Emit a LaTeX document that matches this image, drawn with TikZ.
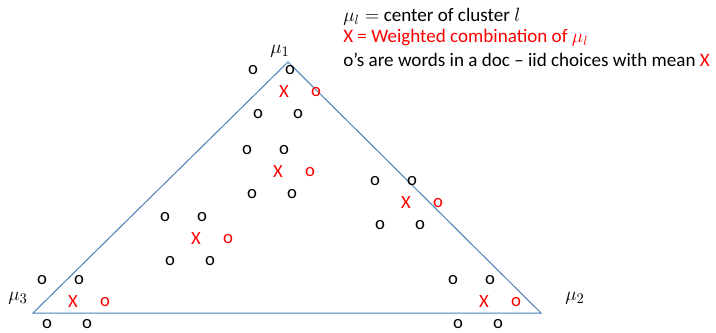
\documentclass[tikz,border=0pt]{standalone}
\usepackage{amsmath}
\usepackage{fontspec}
\setmainfont{Carlito}
\usepackage{xcolor}
\usetikzlibrary{positioning}
\definecolor{edgeblue}{RGB}{74,126,187}
\definecolor{markred}{RGB}{255,0,0}
\tikzset{
  wordmark/.style={inner sep=0pt,font=\fontsize{14}{16}\selectfont},
  meanmark/.style={wordmark,text=markred},
  vertexlabel/.style={inner sep=0pt,font=\fontsize{15}{17}\selectfont},
  legendline/.style={inner sep=0pt,anchor=west,font=\fontsize{14.3}{17}\selectfont}
}

\begin{document}
\begin{tikzpicture}[x=0.75pt,y=-0.75pt]
\useasboundingbox (0,0) rectangle (716,332);
% legend
\node[legendline] (leg1) at (343,17) {$\mu_l = $ center of cluster $l$};
\node[legendline,text=markred] (leg2) at (343,38) {X = Weighted combination of $\mu_l$};
\node[legendline] (leg3) at (343,60) {o’s are words in a doc -- iid choices with mean \textcolor{markred}{X}};
% simplex
\coordinate (m1) at (288,62);
\coordinate (m2) at (541,313);
\coordinate (m3) at (33,313);
\draw[edgeblue,line width=0.75pt] (m1) -- (m2) -- (m3) -- cycle;
\node[vertexlabel] (lab1) at (280,51) {$\mu_1$};
\node[vertexlabel] (lab2) at (575,298) {$\mu_2$};
\node[vertexlabel] (lab3) at (18,298) {$\mu_3$};
% documents: mean X, one red word, four black words
\foreach \cx/\cy [count=\i] in {284/92, 278/172, 406/203, 196/239, 73/302, 484/302}{
  \node[meanmark] (mean\i) at (\cx,\cy) {X};
  \node[meanmark] (red\i) at (\cx+32,\cy) {o};
  \node[wordmark] (wa\i) at (\cx-31,\cy-22) {o};
  \node[wordmark] (wb\i) at (\cx+6,\cy-22) {o};
  \node[wordmark] (wc\i) at (\cx-26,\cy+22) {o};
  \node[wordmark] (wd\i) at (\cx+14,\cy+22) {o};
}
\end{tikzpicture}
\end{document}
